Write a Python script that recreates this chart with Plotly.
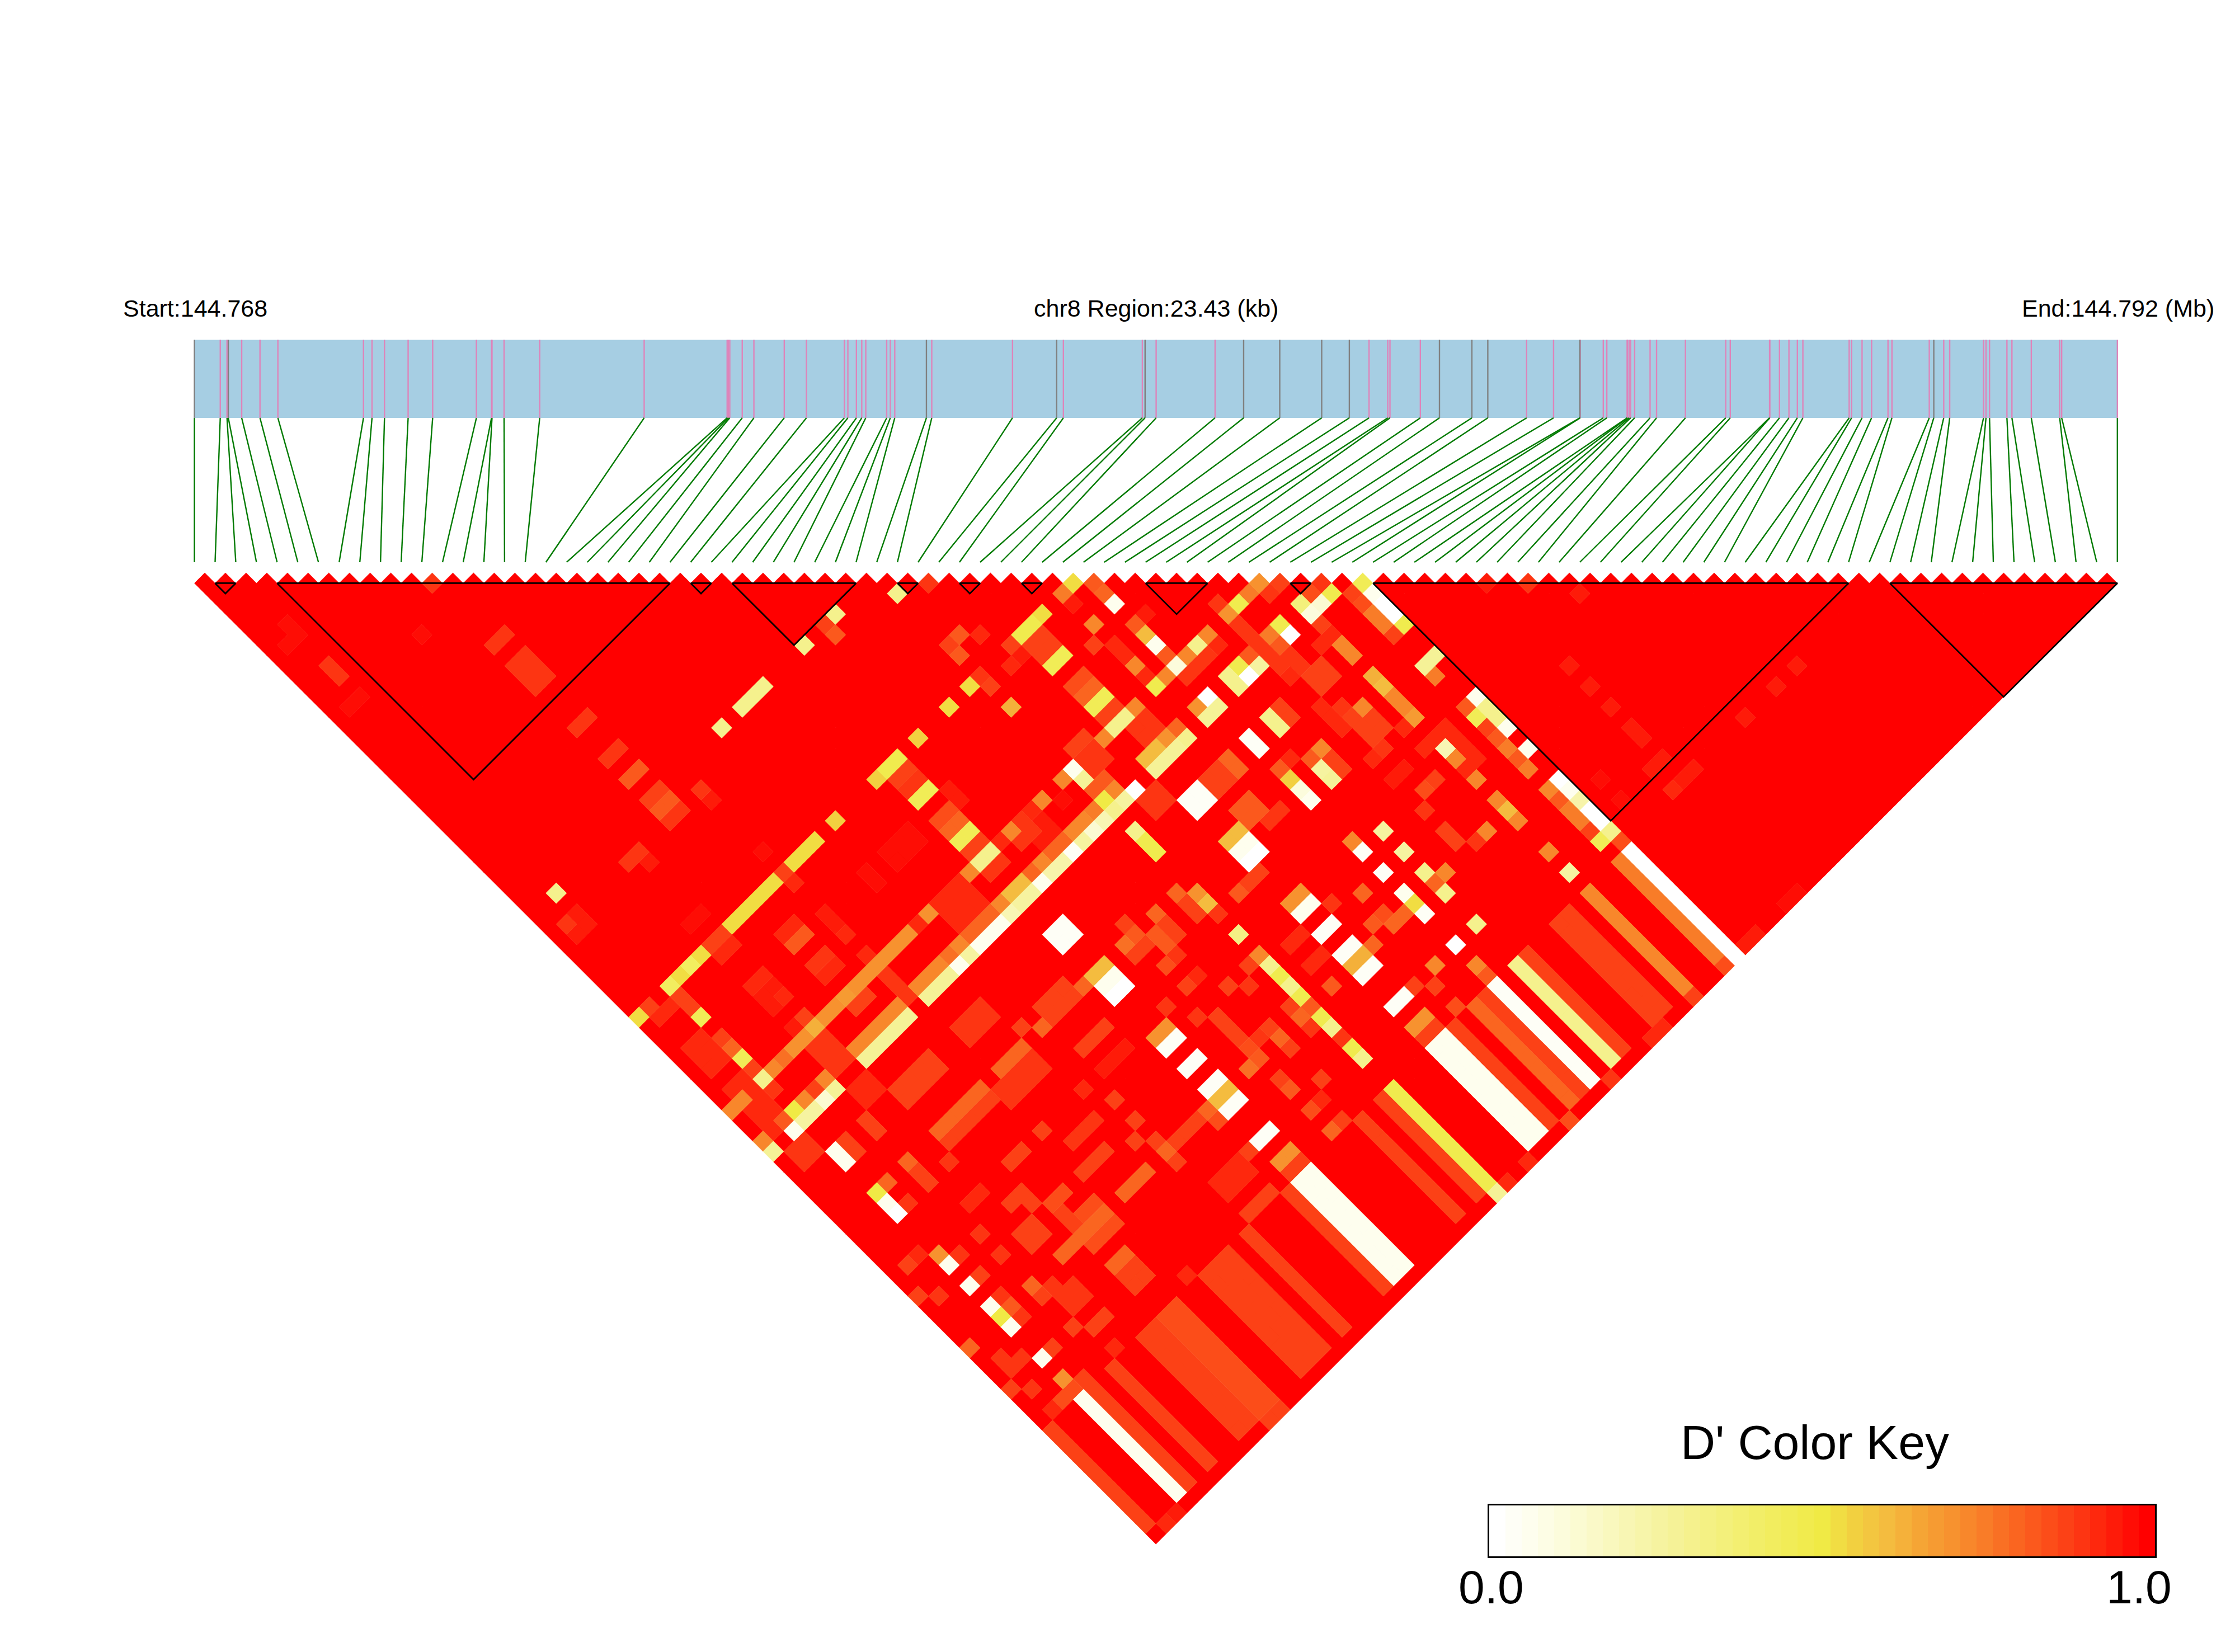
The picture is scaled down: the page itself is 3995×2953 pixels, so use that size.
import numpy as np
import plotly.graph_objects as go

W, H = 3995, 2953
N_SNP = 94
REGION_KB = 23.43

snp_kb = [0, .315, .397, .413, .576, .799, 1.017, 2.060, 2.164, 2.316, 2.604, 2.903, 3.436, 3.620, 3.626, 3.773,
          4.207, 5.480, 6.491, 6.507, 6.523, 6.675, 6.817, 7.187, 7.457, 7.919, 7.962, 8.066, 8.131, 8.180, 8.435,
          8.479, 8.533, 8.919, 8.984, 9.968, 10.506, 10.588, 11.550, 11.583, 11.718, 12.436, 12.784, 13.224, 13.735,
          14.072, 14.312, 14.540, 14.567, 14.937, 15.170, 15.565, 15.759, 16.232, 16.560, 16.881, 16.885, 17.166,
          17.209, 17.457, 17.460, 17.481, 17.500, 17.548, 17.736, 17.815, 18.167, 18.658, 18.713, 19.192, 19.195,
          19.313, 19.428, 19.531, 19.598, 20.162, 20.192, 20.319, 20.435, 20.635, 20.683, 21.138, 21.193, 21.314,
          21.387, 21.799, 21.829, 21.872, 22.084, 22.145, 22.381, 22.727, 22.751, 23.43]
grey_snps = [0, 3, 33, 36, 39, 42, 43, 44, 45, 50, 51, 52, 55, 82]
ld_blocks = [(1, 2), (4, 23), (24, 25), (26, 32), (34, 35), (37, 38), (40, 41), (46, 49), (53, 54), (57, 80), (82, 93)]

# D' values that differ from 1.0: (first i, last i, first j, last j, value)
ld_upper_left = [
    (11, 11, 12, 12, .9), (2, 2, 7, 8, .97), (1, 1, 8, 8, .97), (8, 8, 14, 14, .97), (11, 12, 18, 18, .9),
    (11, 12, 20, 22, .9), (2, 2, 11, 12, .9), (1, 2, 14, 14, .97), (11, 12, 26, 26, .9), (11, 12, 29, 29, .9),
    (11, 12, 31, 31, .83), (11, 12, 33, 33, .87), (11, 12, 34, 34, .82), (11, 12, 35, 35, .9), (14, 14, 35, 35, .9),
    (14, 14, 36, 36, .96), (7, 8, 35, 35, .9), (8, 8, 36, 36, .96), (2, 2, 33, 33, .3), (1, 1, 35, 35, .9),
    (2, 2, 35, 36, .96), (1, 1, 36, 36, .96), (7, 8, 41, 41, .97), (20, 22, 33, 33, .3), (18, 18, 33, 33, .3),
    (33, 33, 35, 35, .3), (29, 29, 33, 33, .3), (28, 28, 33, 33, .87), (28, 28, 34, 34, .83), (26, 26, 33, 33, .3),
    (35, 35, 36, 36, .89), (14, 14, 41, 41, .97), (20, 22, 47, 48, .97), (18, 18, 47, 48, .97),
]
ld_col_43 = [
    (0, 0, 43, 43, .52), (1, 1, 43, 43, .87), (3, 3, 43, 43, .42), (4, 4, 43, 43, .52), (5, 5, 43, 43, .42),
    (6, 6, 43, 43, .53), (7, 8, 43, 43, .88), (9, 13, 43, 43, .53), (14, 14, 43, 43, .88), (15, 17, 43, 43, .53),
    (19, 19, 43, 43, .54), (23, 23, 43, 43, .55), (24, 25, 43, 43, .48), (27, 27, 43, 43, .55), (30, 30, 43, 43, .52),
    (32, 32, 43, 43, .52), (33, 33, 43, 43, .9), (36, 36, 43, 43, .88), (37, 38, 43, 43, .48), (39, 39, 43, 43, .53),
    (41, 41, 43, 43, .75), (42, 42, 43, 43, .53), (43, 43, 44, 44, .83), (43, 43, 45, 45, .8), (41, 41, 44, 44, .95),
    (43, 43, 46, 46, .05), (14, 14, 44, 44, .93), (7, 8, 44, 44, .93), (1, 2, 44, 44, .93), (3, 3, 44, 44, .87),
    (3, 3, 45, 45, .88), (3, 3, 46, 46, .45), (33, 33, 44, 44, .88), (24, 25, 44, 44, .88), (24, 25, 45, 45, .9),
    (24, 25, 46, 46, .46), (35, 35, 44, 44, .93), (36, 36, 44, 44, .96), (37, 38, 44, 45, .87), (37, 38, 46, 46, .46),
    (34, 34, 40, 40, .83), (35, 35, 41, 41, .93), (33, 33, 40, 40, .88), (33, 33, 41, 41, .83), (36, 36, 43, 43, .88),
    (41, 41, 46, 46, .73), (40, 40, 47, 47, .87), (41, 41, 48, 48, .93), (33, 33, 46, 46, .62),
]
ld_col_48_56 = [
    (37, 38, 48, 48, .85), (37, 38, 49, 49, .81), (37, 38, 50, 50, .45), (37, 38, 51, 51, .88),
    (26, 26, 47, 48, .96), (24, 24, 48, 48, .85), (25, 25, 48, 48, .85), (24, 25, 49, 49, .81), (24, 25, 50, 50, .46),
    (24, 25, 51, 51, .88), (24, 25, 52, 52, .3), (24, 25, 53, 53, .9), (1, 2, 47, 48, .93), (3, 3, 48, 48, .87),
    (1, 2, 49, 49, .93), (3, 3, 49, 49, .8), (3, 3, 50, 50, .45), (3, 3, 51, 51, .87), (1, 2, 51, 51, .93),
    (23, 23, 52, 52, .72), (27, 27, 52, 52, .72), (26, 26, 52, 52, .93), (28, 28, 52, 53, .9), (27, 27, 53, 53, .9),
    (29, 29, 53, 54, .94), (28, 28, 54, 54, .94), (30, 30, 52, 52, .72), (29, 29, 52, 52, .93), (31, 31, 53, 53, .97),
    (19, 19, 52, 52, .7), (18, 18, 52, 52, .93), (20, 22, 52, 52, .93), (20, 22, 53, 54, .93),
    (0, 1, 52, 52, .72), (2, 2, 52, 52, .93), (3, 3, 52, 52, .3), (4, 4, 52, 52, .72), (5, 5, 52, 52, .78),
    (6, 7, 52, 52, .7), (8, 8, 52, 52, .62), (9, 10, 52, 52, .7), (11, 11, 52, 52, .68), (12, 17, 52, 52, .7),
    (33, 33, 52, 52, .05), (32, 32, 52, 52, .72), (36, 36, 52, 52, .72), (37, 38, 52, 52, .3), (41, 41, 52, 52, .47),
    (42, 42, 52, 52, .72), (43, 43, 52, 52, .1), (44, 44, 52, 52, .72), (45, 45, 52, 52, .3), (46, 46, 52, 52, .72),
    (48, 48, 52, 52, .7), (49, 49, 52, 52, .47), (50, 50, 52, 52, .75), (51, 51, 52, 52, .7),
    (33, 33, 53, 53, .28), (3, 3, 53, 53, .9), (2, 2, 53, 53, .93), (1, 1, 53, 55, .93), (2, 2, 54, 54, .93),
    (7, 8, 53, 55, .9), (14, 14, 53, 55, .91), (0, 0, 55, 55, .72), (2, 2, 55, 55, .82), (3, 3, 55, 55, .5),
    (4, 4, 55, 55, .72), (5, 5, 55, 55, .87), (6, 6, 55, 55, .72), (9, 13, 55, 55, .72), (15, 17, 55, 55, .72),
    (18, 18, 55, 55, .78), (19, 19, 55, 55, .72), (20, 22, 55, 55, .8), (23, 23, 55, 55, .72), (24, 25, 55, 55, .6),
    (26, 26, 55, 55, .8), (27, 27, 55, 55, .72), (28, 29, 55, 55, .8), (30, 31, 55, 55, .72), (32, 32, 55, 55, .75),
    (33, 33, 55, 55, .5), (34, 34, 55, 55, .72), (37, 38, 55, 55, .6), (39, 39, 55, 55, .7), (40, 40, 55, 55, .8),
    (42, 42, 55, 55, .7), (43, 43, 55, 55, .0), (45, 45, 55, 55, .3), (46, 46, 55, 55, .47), (47, 47, 55, 55, .82),
    (49, 49, 55, 55, .75), (50, 50, 55, 55, .47), (52, 52, 55, 55, .35), (53, 53, 55, 55, .85), (54, 54, 55, 55, .9),
    (0, 0, 56, 56, .27), (2, 2, 56, 56, .05), (3, 4, 56, 56, .26), (5, 5, 56, 56, .12), (6, 6, 56, 56, .28),
    (9, 13, 56, 56, .28), (15, 17, 56, 56, .27), (18, 18, 56, 56, .05), (19, 19, 56, 56, .25), (20, 22, 56, 56, .05),
    (23, 23, 56, 56, .2), (24, 25, 56, 56, .25), (26, 26, 56, 56, .05), (27, 28, 56, 56, .22), (29, 29, 56, 56, .03),
    (30, 30, 56, 56, .25), (31, 31, 56, 56, .12), (32, 32, 56, 56, .2), (33, 33, 56, 56, .3), (34, 34, 56, 56, .25),
    (35, 35, 56, 56, .0), (37, 39, 56, 56, .27), (40, 40, 56, 56, .3), (42, 43, 56, 56, .28), (45, 45, 56, 56, .3),
    (46, 46, 56, 56, .0), (47, 47, 56, 56, .25), (49, 49, 56, 56, .82), (50, 50, 56, 56, .0), (52, 52, 56, 56, .1),
    (53, 53, 56, 56, .12), (54, 54, 56, 56, .47),
]
ld_col_57_82 = [
    (1, 2, 57, 58, .9), (7, 8, 57, 58, .92), (51, 51, 53, 53, .9), (52, 52, 53, 53, .88), (43, 43, 48, 48, .82),
    (44, 44, 48, 48, .94), (43, 43, 49, 49, .6), (43, 43, 50, 50, .05), (41, 41, 50, 50, .72), (43, 43, 51, 51, .82),
    (48, 48, 51, 51, .9), (52, 52, 57, 57, .88), (55, 55, 57, 57, .88), (56, 56, 57, 57, .45), (52, 52, 58, 58, .92),
    (55, 55, 58, 58, .85), (56, 56, 58, 58, .05), (33, 33, 58, 58, .3), (33, 33, 59, 60, .47), (52, 52, 59, 59, .72),
    (55, 55, 59, 59, .75), (56, 56, 59, 59, .0), (52, 52, 60, 60, .72), (55, 55, 60, 60, .75), (56, 56, 60, 60, .0),
    (3, 3, 59, 60, .05), (4, 4, 59, 60, .88), (24, 25, 59, 60, .03), (37, 38, 59, 60, .03), (43, 43, 59, 60, .03),
    (45, 45, 59, 60, .3), (46, 46, 59, 60, .88), (41, 41, 59, 60, .8), (11, 12, 59, 60, .87), (15, 17, 59, 60, .89),
    (9, 10, 59, 60, .87), (56, 56, 61, 61, .47), (55, 55, 61, 61, .87), (20, 22, 62, 62, .87), (52, 52, 62, 62, .63),
    (3, 3, 63, 63, .5), (4, 4, 63, 63, .8), (6, 6, 63, 63, .8), (9, 13, 63, 63, .8), (15, 17, 63, 63, .8),
    (19, 19, 63, 63, .8), (20, 22, 63, 63, .88), (23, 23, 63, 63, .8), (24, 24, 63, 63, .6), (25, 25, 63, 63, .6),
    (32, 32, 63, 63, .8), (37, 38, 63, 63, .6), (43, 43, 63, 63, .55), (45, 45, 63, 63, .82), (46, 46, 63, 63, .72),
    (50, 50, 63, 63, .72), (52, 52, 63, 63, .6), (3, 3, 64, 64, .05), (6, 6, 64, 65, .88), (9, 13, 64, 64, .88),
    (14, 17, 64, 65, .9), (24, 25, 64, 64, .05), (33, 33, 64, 64, .7), (37, 38, 64, 64, .05), (43, 43, 64, 64, .1),
    (45, 45, 64, 64, .25), (52, 52, 64, 64, .72), (55, 56, 64, 64, .28), (3, 3, 65, 65, .0), (4, 4, 65, 65, .9),
    (24, 25, 65, 65, .0), (33, 33, 65, 65, .6), (37, 38, 65, 65, .0), (43, 43, 65, 65, .04), (45, 45, 65, 65, .28),
    (52, 52, 65, 65, .72), (55, 55, 65, 65, .75), (20, 22, 66, 66, .88), (52, 52, 66, 66, .67), (11, 12, 68, 68, .88),
    (14, 14, 68, 68, .88), (20, 22, 68, 68, .95), (33, 33, 68, 68, .33), (55, 55, 68, 68, .82), (56, 56, 68, 68, .05),
    (3, 3, 69, 69, .7), (24, 25, 69, 69, .7), (37, 38, 69, 69, .7), (43, 43, 69, 69, .72), (52, 52, 69, 69, .2),
    (55, 55, 69, 69, .45), (56, 56, 69, 69, .3), (3, 3, 70, 70, .04), (4, 4, 70, 70, .9), (15, 17, 70, 70, .9),
    (24, 25, 70, 70, .03), (33, 33, 70, 70, .72), (37, 38, 70, 70, .04), (43, 43, 70, 70, .03), (45, 45, 70, 70, .25),
    (52, 52, 70, 70, .72), (55, 55, 70, 70, .88), (56, 56, 70, 70, .3), (33, 33, 71, 71, .3), (55, 55, 71, 71, .82),
    (56, 56, 71, 71, .05), (62, 62, 71, 71, .96), (3, 3, 72, 72, .04), (4, 4, 72, 72, .88), (14, 16, 72, 72, .88),
    (24, 25, 72, 72, .03), (33, 33, 72, 72, .47), (37, 38, 72, 72, .03), (43, 43, 72, 72, .03), (45, 45, 72, 72, .25),
    (52, 52, 72, 72, .72), (55, 55, 72, 72, .75), (33, 33, 73, 73, .3), (55, 55, 73, 73, .82), (56, 56, 73, 73, .04),
    (62, 62, 73, 73, .96), (3, 3, 74, 74, .04), (4, 4, 74, 74, .9), (24, 25, 74, 74, .03), (33, 33, 74, 74, .47),
    (37, 38, 74, 74, .03), (43, 43, 74, 74, .04), (45, 45, 74, 74, .3), (52, 52, 74, 74, .72), (55, 55, 74, 74, .75),
    (0, 0, 75, 75, .8), (3, 3, 75, 75, .5), (4, 4, 75, 75, .82), (6, 6, 75, 75, .8), (9, 13, 75, 75, .8),
    (15, 17, 75, 75, .8), (24, 25, 75, 75, .6), (33, 33, 75, 75, .82), (37, 38, 75, 75, .62), (42, 42, 75, 75, .8),
    (43, 43, 75, 75, .52), (45, 45, 75, 75, .8), (46, 46, 75, 75, .72), (50, 50, 75, 75, .72), (52, 52, 75, 75, .6),
    (62, 62, 75, 75, .96),
    (3, 3, 76, 76, .04), (4, 4, 76, 76, .9), (24, 25, 76, 76, .03), (33, 33, 76, 76, .47), (37, 38, 76, 76, .03),
    (43, 43, 76, 76, .03), (45, 45, 76, 76, .3), (52, 52, 76, 76, .72), (55, 55, 76, 76, .72), (56, 56, 76, 76, .0),
    (33, 33, 77, 77, .3), (55, 55, 77, 77, .83), (56, 56, 77, 77, .06), (62, 62, 77, 77, .96), (11, 12, 78, 78, .8),
    (33, 33, 78, 78, .9), (55, 55, 78, 78, .76), (56, 56, 78, 78, .22), (58, 58, 78, 78, .97), (62, 62, 78, 78, .95),
    (3, 3, 79, 79, .04), (4, 4, 79, 79, .88), (11, 12, 79, 80, .87), (20, 22, 79, 80, .93), (24, 25, 79, 79, .03),
    (33, 33, 79, 79, .47), (37, 38, 79, 79, .03), (43, 43, 79, 79, .0), (45, 45, 79, 79, .3), (52, 52, 79, 79, .72),
    (55, 55, 79, 79, .75), (56, 56, 79, 79, .0), (33, 33, 80, 80, .3), (55, 55, 80, 80, .87), (56, 56, 80, 80, .0),
    (58, 58, 80, 80, .97), (61, 62, 80, 80, .96), (3, 3, 81, 81, .7), (24, 25, 81, 81, .7), (37, 38, 81, 81, .7),
    (43, 43, 81, 81, .72), (52, 52, 81, 81, .25), (55, 55, 81, 81, .45), (56, 56, 81, 81, .3), (2, 3, 82, 82, .85),
    (1, 1, 82, 82, .93), (4, 4, 82, 82, .88), (7, 7, 82, 82, .93), (14, 14, 82, 82, .93), (20, 22, 82, 82, .88),
    (24, 25, 82, 82, .88), (28, 28, 82, 82, .8), (37, 38, 82, 82, .88), (40, 40, 82, 82, .85), (43, 43, 82, 82, .82),
    (56, 56, 82, 82, .85), (61, 61, 82, 82, .93), (62, 63, 82, 82, .96), (68, 68, 82, 82, .94), (71, 71, 82, 82, .96),
    (73, 73, 82, 82, .96),
]
ld_long_strips = [
    (0, 0, 83, 92, .88), (3, 3, 83, 92, .04), (4, 4, 83, 92, .88), (6, 6, 83, 92, .88), (9, 10, 83, 92, .87),
    (11, 12, 83, 92, .85), (15, 17, 83, 92, .87), (19, 19, 83, 92, .88), (23, 23, 83, 92, .88), (24, 25, 83, 92, .04),
    (30, 30, 83, 92, .88), (32, 32, 83, 92, .88), (33, 33, 83, 92, .48), (37, 38, 83, 92, .04), (39, 39, 83, 92, .88),
    (41, 41, 83, 92, .8), (42, 42, 83, 92, .88), (43, 43, 83, 92, .03), (45, 45, 83, 92, .3), (46, 46, 83, 92, .88),
    (49, 50, 83, 92, .88), (52, 52, 83, 92, .72), (55, 55, 83, 92, .75), (56, 56, 83, 93, .0),
    (1, 1, 93, 93, .93), (2, 2, 93, 93, .95), (11, 12, 93, 93, .88), (33, 33, 93, 93, .28), (34, 34, 93, 93, .93),
    (36, 36, 93, 93, .93), (40, 40, 93, 93, .85), (44, 44, 93, 93, .9), (48, 49, 93, 93, .93), (52, 52, 93, 93, .88),
    (55, 55, 93, 93, .85), (57, 57, 93, 93, .96), (58, 58, 93, 93, .96), (61, 62, 93, 93, .97),
]
ld_top_row = [
    (42, 42, 43, 43, .53), (43, 43, 44, 44, .83), (51, 51, 52, 52, .7), (52, 52, 53, 53, .88), (54, 54, 55, 55, .9),
    (56, 56, 57, 57, .45), (62, 62, 63, 63, .95), (64, 64, 65, 65, .9), (66, 66, 68, 68, .96), (50, 50, 52, 52, .75),
]
# single cells of the finer texture: (i, j, value); only applied where no stronger colour was read
ld_texture = [
    (41, 49, .93), (41, 51, .93), (45, 53, .9), (44, 53, .9), (43, 53, .9), (46, 53, .92), (48, 53, .9), (48, 54, .9),
    (48, 55, .9), (48, 56, .9), (48, 57, .9), (48, 58, .93), (49, 57, .9), (49, 58, .9), (49, 59, .88), (50, 59, .88),
    (49, 60, .88), (50, 60, .88), (48, 61, .93), (48, 62, .93), (49, 62, .9), (49, 63, .88), (48, 63, .93), (49, 64, .88),
    (50, 64, .88), (50, 65, .88), (49, 65, .88), (49, 66, .9), (48, 66, .92), (51, 66, .93), (51, 58, .93), (53, 68, .93),
    (53, 69, .92), (52, 68, .93), (51, 68, .93), (53, 70, .92), (53, 71, .93), (52, 71, .93), (50, 70, .88), (49, 70, .84),
    (48, 71, .9), (48, 68, .95), (49, 68, .95), (48, 73, .88), (48, 74, .88), (49, 75, .9), (39, 52, .72), (38, 53, .9),
    (39, 53, .9), (38, 54, .9), (39, 54, .9), (35, 51, .88), (34, 51, .88), (35, 52, .9), (34, 52, .9), (35, 53, .9),
    (34, 53, .9), (33, 54, .82), (34, 54, .82), (36, 57, .9), (36, 58, .9), (35, 57, .9), (35, 58, .9), (40, 60, .88),
    (40, 59, .88), (39, 59, .88), (39, 60, .88), (40, 62, .83), (40, 63, .83), (39, 62, .83), (39, 63, .83), (41, 64, .9),
    (40, 64, .9), (44, 62, .92), (43, 62, .83), (46, 65, .88), (46, 64, .88), (35, 66, .82), (36, 66, .88), (37, 66, .88),
    (32, 65, .88), (32, 64, .88), (33, 66, .9), (30, 63, .8), (30, 64, .88), (30, 65, .88), (29, 64, .83), (29, 65, .83),
    (28, 62, .88), (28, 63, .83), (27, 63, .78), (27, 64, .88), (28, 64, .88), (29, 66, .9), (28, 66, .85), (29, 68, .93),
    (28, 68, .88), (30, 70, .88), (26, 68, .9), (31, 71, .9), (32, 70, .88), (32, 75, .8), (32, 74, .88), (32, 76, .9),
    (35, 71, .93), (36, 71, .93), (35, 73, .93), (36, 73, .93), (35, 75, .82), (39, 71, .9), (41, 72, .8), (41, 74, .85),
    (39, 75, .8), (40, 74, .82), (41, 75, .8), (41, 79, .72), (39, 79, .88), (40, 80, .88), (28, 72, .87), (28, 73, .88),
    (28, 74, .84), (29, 74, .9), (30, 75, .8), (30, 74, .88), (30, 76, .88), (27, 75, .78), (28, 75, .82), (27, 70, .9),
    (28, 71, .87), (28, 78, .82), (28, 77, .88), (30, 79, .88), (28, 80, .86), (29, 80, .93), (29, 82, .88), (23, 75, .8),
    (23, 76, .85), (23, 79, .88), (19, 70, .88), (18, 68, .93), (19, 72, .88), (19, 74, .88), (19, 75, .8), (19, 76, .88),
    (18, 73, .88), (21, 75, .88), (20, 75, .88), (22, 75, .88), (12, 46, .93), (11, 46, .93), (12, 47, .83), (11, 47, .83),
    (14, 47, .95), (14, 48, .95), (14, 49, .93), (12, 49, .9), (11, 49, .9), (12, 50, .93), (11, 50, .93), (8, 47, .93),
    (7, 47, .93), (8, 48, .95), (7, 48, .95), (8, 49, .93), (7, 49, .96), (14, 51, .93), (12, 53, .88), (11, 53, .88),
    (8, 51, .88), (7, 51, .95), (6, 59, .87), (6, 60, .87), (8, 65, .9), (18, 62, .88), (11, 74, .88), (11, 73, .88),
    (12, 74, .85), (13, 74, .85), (10, 71, .88), (10, 70, .88), (9, 70, .88), (9, 72, .88), (8, 72, .88), (9, 73, .88),
    (8, 73, .88), (12, 72, .85), (11, 72, .85), (11, 76, .84), (12, 76, .84), (13, 76, .84), (8, 77, .9), (7, 77, .9),
    (8, 78, .9), (7, 78, .9), (6, 76, .88), (7, 76, .9), (6, 79, .88), (7, 80, .88), (8, 80, .88), (1, 68, .88), (2, 68, .93),
    (0, 70, .88), (1, 71, .9), (1, 78, .9), (1, 77, .9), (2, 78, .9), (0, 79, .88), (1, 80, .9), (6, 72, .9), (6, 70, .9),
    (7, 68, .92), (8, 68, .92),
]

color_anchors = [(0, "#FFFFFF"), (.1, "#FCFCDC"), (.25, "#F6F3A0"), (.4, "#F2EE68"), (.5, "#F0EA45"), (.55, "#F2D040"),
                 (.6, "#F4BC3F"), (.65, "#F5A535"), (.7, "#F7922F"), (.8, "#FA6520"), (.9, "#FD3512"), (1, "#FF0000")]
N_BINS = 41


def hex_rgb(c):
    return np.array([int(c[k:k + 2], 16) for k in (1, 3, 5)], float)


def bin_color(v):
    xs = [a[0] for a in color_anchors]
    cs = np.array([hex_rgb(a[1]) for a in color_anchors])
    r = [int(round(np.interp(v, xs, cs[:, k]))) for k in range(3)]
    return f"rgb({r[0]},{r[1]},{r[2]})"


D = np.ones((N_SNP, N_SNP))
for i, j, v in ld_texture:
    D[i, j] = v
for i1, i2, j1, j2, v in ld_upper_left + ld_col_43 + ld_col_48_56 + ld_col_57_82 + ld_long_strips + ld_top_row:
    D[i1:i2 + 1, j1:j2 + 1] = v

fig = go.Figure()

# LD cells, one polygon trace per colour bin: x in SNP-index units, y in half-cell rows below the top
polys = {}
for i in range(N_SNP):
    for j in range(i + 1, N_SNP):
        b = int(round(D[i, j] * (N_BINS - 1)))
        cx, cy = (i + j) / 2, j - i
        px, py = polys.setdefault(b, ([], []))
        px += [cx - .5, cx, cx + .5, cx, cx - .5, None]
        py += [cy, cy - 1, cy, cy + 1, cy, None]
for b in sorted(polys, reverse=True):
    c = bin_color(b / (N_BINS - 1))
    fig.add_trace(go.Scatter(x=polys[b][0], y=polys[b][1], mode="lines", fill="toself", fillcolor=c,
                             line=dict(color=c, width=0.6), hoverinfo="skip", showlegend=False))

# gene bar with SNP ticks, and connectors
BAR_TOP, BAR_BOTTOM, LINK_END = -22.55, -15.0, -1.03
pos = np.array(snp_kb) / REGION_KB * (N_SNP - 1)
fig.add_trace(go.Scatter(x=[0, N_SNP - 1, N_SNP - 1, 0, 0], y=[BAR_TOP, BAR_TOP, BAR_BOTTOM, BAR_BOTTOM, BAR_TOP],
                         mode="lines", fill="toself", fillcolor="#A6CEE3", line=dict(width=0), hoverinfo="skip",
                         showlegend=False))
for name, col in (("p", "#DE84BA"), ("g", "#808080")):
    xs, ys = [], []
    for k in range(N_SNP):
        if (k in grey_snps) == (name == "g"):
            xs += [pos[k], pos[k], None]
            ys += [BAR_TOP, BAR_BOTTOM, None]
    fig.add_trace(go.Scatter(x=xs, y=ys, mode="lines", line=dict(color=col, width=2.4), hoverinfo="skip",
                             showlegend=False))
xs, ys = [], []
for k in range(N_SNP):
    xs += [pos[k], k, None]
    ys += [BAR_BOTTOM, LINK_END, None]
fig.add_trace(go.Scatter(x=xs, y=ys, mode="lines", line=dict(color="#007A00", width=2.4), hoverinfo="skip",
                         showlegend=False))

# haplotype block outlines
xs, ys = [], []
for s, e in ld_blocks:
    xs += [s, e, (s + e) / 2, s, None]
    ys += [1, 1, e - s + 1, 1, None]
fig.add_trace(go.Scatter(x=xs, y=ys, mode="lines", line=dict(color="black", width=2.8), hoverinfo="skip",
                         showlegend=False))

# colour key
key_vals = [k / (N_BINS - 1) for k in range(N_BINS)]
fig.add_trace(go.Heatmap(x=key_vals, y=[0], z=[key_vals], xaxis="x2", yaxis="y2", showscale=False, hoverinfo="skip",
                         zmin=0, zmax=1, colorscale=[[a, c] for a, c in color_anchors]))

CW, CH = 36.96, 18.47
X0, Y0 = 347.5, 1024
fig.update_layout(
    width=W, height=H, margin=dict(l=0, r=0, t=0, b=0), paper_bgcolor="white", plot_bgcolor="white",
    font=dict(family="Liberation Sans", color="black"),
    xaxis=dict(range=[-X0 / CW, (W - X0) / CW], visible=False, domain=[0, 1]),
    yaxis=dict(range=[(H - Y0) / CH, -Y0 / CH], visible=False, domain=[0, 1]),
    xaxis2=dict(domain=[2662 / W, 3852 / W], anchor="y2", showticklabels=False, ticks="", showgrid=False,
                zeroline=False, showline=True, mirror=True, linecolor="black", linewidth=2.5),
    yaxis2=dict(domain=[1 - 2782 / H, 1 - 2691 / H], anchor="x2", showticklabels=False, ticks="", showgrid=False,
                zeroline=False, showline=True, mirror=True, linecolor="black", linewidth=2.5),
    annotations=[
        dict(text=t, x=x / W, y=1 - y / H, xref="paper", yref="paper", showarrow=False, font=dict(size=s),
             xanchor="center", yanchor="middle")
        for t, x, y, s in [("Start:144.768", 348.5, 551, 43), ("chr8 Region:23.43 (kb)", 2066, 551, 43),
                           ("End:144.792 (Mb)", 3785.5, 551, 43), ("D' Color Key", 3244, 2578, 86),
                           ("0.0", 2665, 2837, 84), ("1.0", 3823, 2837, 84)]
    ],
)
fig.write_html("out.html", config=dict(displayModeBar=False),
               post_script="document.body.style.margin='0';document.body.style.overflow='hidden';")
